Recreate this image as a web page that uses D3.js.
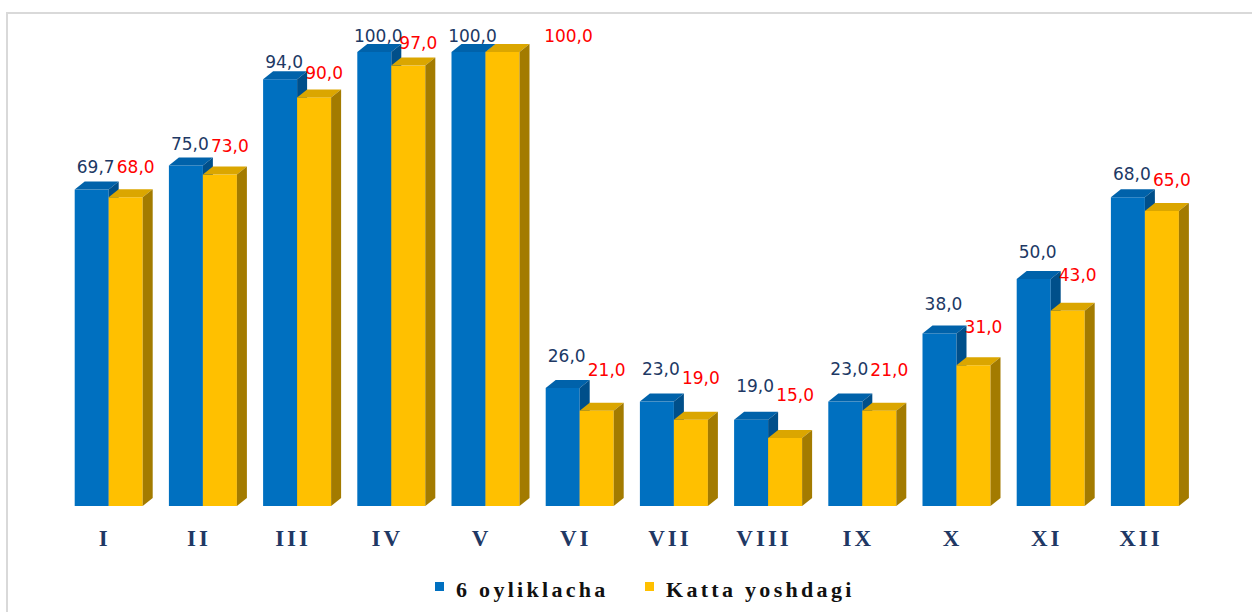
<!DOCTYPE html>
<html>
<head>
<meta charset="utf-8">
<script src="https://cdn.jsdelivr.net/npm/d3@7/dist/d3.min.js"></script>
<style>
  html, body { margin: 0; padding: 0; background: #fff; }
  svg { display: block; }
</style>
</head>
<body>
<svg id="chart" width="1252" height="612"></svg>
<script>
const categories = ["I","II","III","IV","V","VI","VII","VIII","IX","X","XI","XII"];
const seriesNames = ["6 oyliklacha", "Katta yoshdagi"];
const values6 = [69.7, 75.0, 94.0, 100.0, 100.0, 26.0, 23.0, 19.0, 23.0, 38.0, 50.0, 68.0];
const valuesKatta = [68.0, 73.0, 90.0, 97.0, 100.0, 21.0, 19.0, 15.0, 21.0, 31.0, 43.0, 65.0];

const W = 1252, H = 612;
const svg = d3.select("#chart");

// frame
svg.append("rect").attr("x", 7).attr("y", 13).attr("width", W + 20).attr("height", H + 20)
  .attr("fill", "none").attr("stroke", "#d9d9d9").attr("stroke-width", 2);

const x = d3.scaleBand().domain(categories).range([57.6, 1188]).padding(0);
const y = d3.scaleLinear().domain([0, 100]).range([506, 52]);

const fmt = v => d3.format(".1f")(v).replace(".", ",");

const DX = 10, DY = 8, BW = 34;
const series = [
  { name: seriesNames[0], values: values6, off: -30, front: "#0070c0", top: "#0062aa", side: "#004f8a", label: "#203864" },
  { name: seriesNames[1], values: valuesKatta, off: 4, front: "#ffc000", top: "#dba600", side: "#a37b00", label: "#ff0000" }
];

const g = svg.append("g");
categories.forEach((c, i) => {
  const cx = x(c) + x.bandwidth() / 2;
  series.forEach(s => {
    const v = s.values[i];
    const x0 = cx + s.off, x1 = x0 + BW;
    const t = y(v), b = y(0);
    // front
    g.append("rect").attr("x", x0).attr("y", t).attr("width", BW).attr("height", b - t).attr("fill", s.front);
    // top
    g.append("path").attr("d", `M${x0},${t}L${x0 + DX},${t - DY}L${x1 + DX},${t - DY}L${x1},${t}Z`).attr("fill", s.top);
    // side
    g.append("path").attr("d", `M${x1},${t}L${x1 + DX},${t - DY}L${x1 + DX},${b - DY}L${x1},${b}Z`).attr("fill", s.side);
  });
});

// value labels
const lg = svg.append("g").attr("font-family", "DejaVu Sans, sans-serif").attr("font-size", 17).attr("text-anchor", "middle");
categories.forEach((c, i) => {
  const cx = x(c) + x.bandwidth() / 2;
  // series 1
  const t1 = y(values6[i]);
  lg.append("text").attr("x", cx - 30 + BW / 2 + 4).attr("y", t1 - (10 + 0.0475 * (t1 - 52)))
    .attr("fill", series[0].label).text(fmt(values6[i]));
  const t2 = y(valuesKatta[i]);
  let lx = cx + 4 + BW / 2 + 10, ly = t2 - (17 + 0.0525 * (t2 - 67));
  if (c === "V") { lx = cx + 4 + BW / 2 + 66; ly = t2 - 10; }
  lg.append("text").attr("x", lx).attr("y", ly).attr("fill", series[1].label).text(fmt(valuesKatta[i]));
});

// category axis labels
svg.append("g").selectAll("text").data(categories).join("text")
  .attr("x", d => x(d) + x.bandwidth() / 2)
  .attr("y", 546)
  .attr("text-anchor", "middle")
  .attr("font-family", "Liberation Serif, Times New Roman, serif")
  .attr("font-weight", "bold")
  .attr("font-size", 23)
  .attr("letter-spacing", 3)
  .attr("fill", "#1f3864")
  .text(d => d);

// legend
const leg = svg.append("g");
const legItems = [
  { name: seriesNames[0], color: series[0].front, x: 435 },
  { name: seriesNames[1], color: series[1].front, x: 645 }
];
legItems.forEach(it => {
  leg.append("rect").attr("x", it.x).attr("y", 582).attr("width", 9).attr("height", 9).attr("fill", it.color);
  leg.append("text").attr("x", it.x + 21).attr("y", 597)
    .attr("font-family", "Liberation Serif, Times New Roman, serif")
    .attr("font-weight", "bold").attr("font-size", 22).attr("letter-spacing", 3.3)
    .attr("fill", "#111").text(it.name);
});
</script>
</body>
</html>
